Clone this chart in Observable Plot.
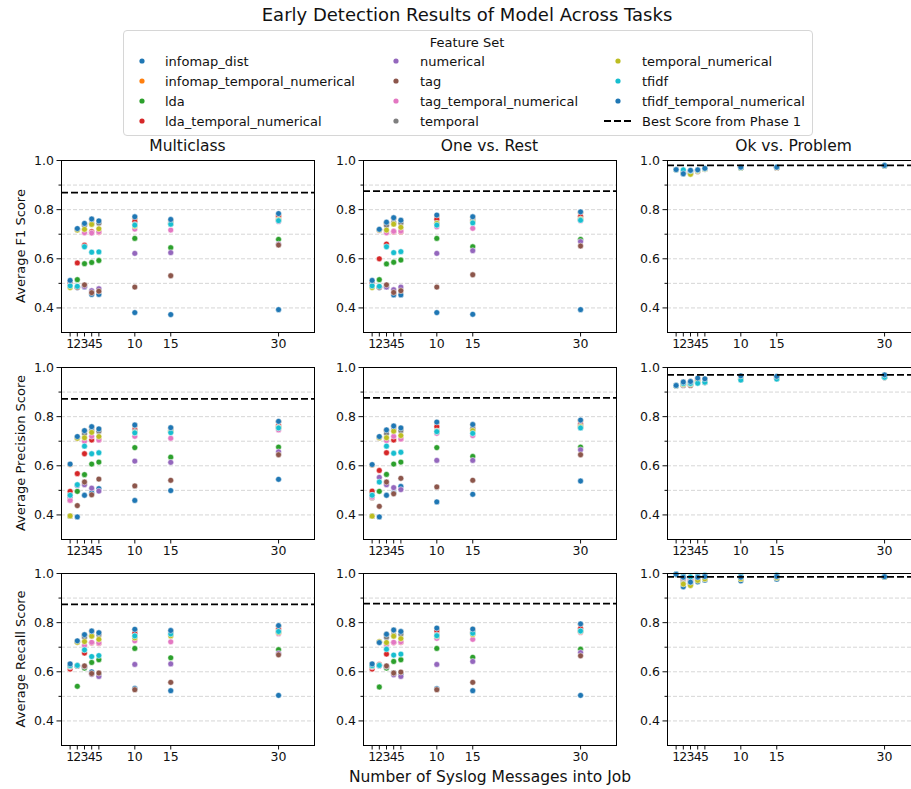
<!DOCTYPE html>
<html><head><meta charset="utf-8">
<script src="https://cdn.jsdelivr.net/npm/d3@7"></script>
<script src="https://cdn.jsdelivr.net/npm/@observablehq/plot@0.6"></script>
<style>
body{margin:0;background:#fff;}
#fig{position:relative;width:911px;height:789px;overflow:hidden;background:#fff;font-family:"DejaVu Sans",sans-serif;color:#111;}
.t{position:absolute;white-space:nowrap;transform:translate(-50%,-50%);line-height:1;}
.l{position:absolute;white-space:nowrap;transform:translate(0,-50%);line-height:1;font-size:13px;}
</style></head><body><div id="fig"></div><script>
const featureSets = ["infomap_dist","infomap_temporal_numerical","lda","lda_temporal_numerical","numerical","tag","tag_temporal_numerical","temporal","temporal_numerical","tfidf","tfidf_temporal_numerical"];
const colors = ["#1f77b4","#ff7f0e","#2ca02c","#d62728","#9467bd","#8c564b","#e377c2","#7f7f7f","#bcbd22","#17becf","#1f77b4"];
const xValues = [1,2,3,4,5,10,15,30];
const tasks = ["Multiclass","One vs. Rest","Ok vs. Problem"];
const metrics = ["Average F1 Score","Average Precision Score","Average Recall Score"];

// rows follow featureSets order, columns follow xValues
const f1Multiclass = [
 [0.505,0.483,0.485,0.455,0.455,0.381,0.373,0.393],
 [0.500,0.720,0.740,0.760,0.750,0.765,0.755,0.777],
 [0.500,0.515,0.580,0.585,0.593,0.683,0.645,0.679],
 [0.500,0.583,0.655,0.710,0.708,0.752,0.745,0.771],
 [0.490,0.484,0.487,0.470,0.478,0.622,0.625,0.660],
 [0.490,0.484,0.494,0.462,0.468,0.485,0.531,0.656],
 [0.490,0.718,0.706,0.705,0.710,0.721,0.717,0.752],
 [0.488,0.720,0.735,0.745,0.745,0.740,0.748,0.760],
 [0.483,0.717,0.720,0.740,0.722,0.733,0.742,0.758],
 [0.490,0.488,0.649,0.627,0.628,0.737,0.741,0.755],
 [0.512,0.723,0.744,0.762,0.754,0.771,0.760,0.784]];
const f1OneVsRest = [
 [0.505,0.483,0.485,0.453,0.453,0.381,0.374,0.393],
 [0.500,0.718,0.745,0.765,0.755,0.775,0.768,0.787],
 [0.500,0.515,0.579,0.586,0.595,0.683,0.649,0.679],
 [0.500,0.600,0.660,0.710,0.710,0.761,0.755,0.773],
 [0.490,0.484,0.485,0.474,0.485,0.622,0.633,0.670],
 [0.490,0.484,0.494,0.463,0.470,0.485,0.535,0.652],
 [0.490,0.715,0.706,0.712,0.713,0.730,0.724,0.755],
 [0.488,0.720,0.735,0.748,0.745,0.744,0.758,0.762],
 [0.483,0.717,0.717,0.741,0.728,0.744,0.750,0.760],
 [0.490,0.488,0.649,0.625,0.629,0.737,0.746,0.757],
 [0.512,0.720,0.749,0.767,0.757,0.778,0.771,0.791]];
const f1OkVsProblem = [
 [0.962,0.946,0.952,0.958,0.965,0.971,0.971,0.979],
 [0.963,0.955,0.957,0.962,0.967,0.972,0.972,0.980],
 [0.962,0.950,0.950,0.960,0.965,0.971,0.971,0.979],
 [0.963,0.955,0.956,0.961,0.966,0.972,0.972,0.980],
 [0.962,0.952,0.952,0.958,0.964,0.971,0.971,0.979],
 [0.962,0.952,0.953,0.955,0.964,0.971,0.971,0.979],
 [0.963,0.955,0.956,0.961,0.966,0.972,0.972,0.980],
 [0.962,0.950,0.948,0.958,0.965,0.971,0.972,0.979],
 [0.962,0.948,0.944,0.958,0.965,0.971,0.972,0.979],
 [0.963,0.962,0.958,0.962,0.967,0.972,0.973,0.980],
 [0.963,0.946,0.960,0.962,0.968,0.973,0.973,0.980]];
const precisionMulticlass = [
 [0.395,0.392,0.480,0.490,0.507,0.459,0.499,0.545],
 [0.605,0.717,0.742,0.757,0.748,0.764,0.753,0.779],
 [0.482,0.496,0.564,0.607,0.615,0.674,0.635,0.676],
 [0.496,0.568,0.649,0.705,0.706,0.747,0.740,0.764],
 [0.470,0.520,0.523,0.509,0.497,0.619,0.614,0.657],
 [0.460,0.438,0.534,0.482,0.546,0.518,0.541,0.645],
 [0.459,0.712,0.700,0.720,0.705,0.720,0.712,0.746],
 [0.396,0.715,0.730,0.745,0.740,0.740,0.745,0.757],
 [0.396,0.712,0.714,0.736,0.719,0.735,0.739,0.755],
 [0.480,0.523,0.680,0.649,0.653,0.734,0.735,0.754],
 [0.607,0.719,0.743,0.759,0.750,0.766,0.755,0.781]];
const precisionOneVsRest = [
 [0.395,0.392,0.480,0.490,0.516,0.453,0.484,0.538],
 [0.603,0.717,0.744,0.760,0.752,0.776,0.766,0.784],
 [0.490,0.496,0.565,0.607,0.615,0.674,0.638,0.676],
 [0.497,0.581,0.653,0.705,0.709,0.759,0.750,0.770],
 [0.480,0.553,0.523,0.511,0.503,0.622,0.622,0.665],
 [0.470,0.435,0.534,0.486,0.549,0.514,0.541,0.645],
 [0.473,0.714,0.703,0.720,0.709,0.732,0.723,0.755],
 [0.396,0.716,0.730,0.748,0.742,0.742,0.752,0.762],
 [0.395,0.714,0.714,0.741,0.723,0.740,0.743,0.758],
 [0.480,0.534,0.680,0.651,0.655,0.739,0.732,0.754],
 [0.605,0.719,0.746,0.762,0.754,0.778,0.768,0.786]];
const precisionOkVsProblem = [
 [0.926,0.930,0.930,0.945,0.945,0.955,0.957,0.962],
 [0.927,0.940,0.942,0.955,0.953,0.965,0.963,0.969],
 [0.926,0.932,0.934,0.945,0.945,0.955,0.957,0.962],
 [0.927,0.936,0.938,0.950,0.950,0.960,0.960,0.966],
 [0.926,0.930,0.930,0.942,0.942,0.952,0.955,0.960],
 [0.926,0.927,0.927,0.940,0.940,0.950,0.954,0.959],
 [0.927,0.935,0.937,0.948,0.948,0.958,0.958,0.965],
 [0.926,0.930,0.932,0.943,0.939,0.952,0.955,0.959],
 [0.926,0.932,0.933,0.945,0.945,0.955,0.957,0.962],
 [0.927,0.935,0.935,0.936,0.940,0.949,0.953,0.960],
 [0.927,0.941,0.943,0.957,0.954,0.966,0.964,0.970]];
const recallMulticlass = [
 [0.630,0.626,0.620,0.600,0.590,0.532,0.523,0.504],
 [0.630,0.724,0.750,0.764,0.757,0.770,0.766,0.785],
 [0.625,0.541,0.615,0.638,0.649,0.695,0.657,0.690],
 [0.611,0.625,0.676,0.718,0.716,0.757,0.750,0.774],
 [0.625,0.625,0.622,0.590,0.581,0.630,0.632,0.675],
 [0.625,0.625,0.624,0.593,0.595,0.527,0.557,0.669],
 [0.620,0.720,0.707,0.720,0.718,0.726,0.722,0.755],
 [0.625,0.722,0.740,0.748,0.750,0.745,0.760,0.762],
 [0.624,0.720,0.723,0.745,0.732,0.738,0.746,0.760],
 [0.625,0.626,0.689,0.662,0.666,0.746,0.754,0.764],
 [0.632,0.726,0.751,0.766,0.759,0.773,0.768,0.788]];
const recallOneVsRest = [
 [0.630,0.626,0.620,0.595,0.590,0.531,0.523,0.504],
 [0.630,0.723,0.752,0.768,0.762,0.776,0.772,0.792],
 [0.625,0.538,0.615,0.642,0.649,0.695,0.659,0.692],
 [0.611,0.630,0.672,0.719,0.720,0.766,0.760,0.777],
 [0.625,0.625,0.622,0.588,0.581,0.630,0.642,0.678],
 [0.625,0.628,0.624,0.595,0.599,0.527,0.557,0.665],
 [0.620,0.720,0.710,0.720,0.722,0.736,0.732,0.760],
 [0.625,0.722,0.740,0.750,0.752,0.750,0.762,0.765],
 [0.624,0.723,0.719,0.745,0.735,0.745,0.752,0.764],
 [0.625,0.626,0.692,0.668,0.672,0.747,0.757,0.766],
 [0.632,0.719,0.753,0.770,0.764,0.778,0.774,0.795]];
const recallOkVsProblem = [
 [0.997,0.946,0.959,0.966,0.973,0.970,0.977,0.985],
 [0.997,0.985,0.980,0.985,0.988,0.985,0.988,0.987],
 [0.997,0.969,0.975,0.980,0.985,0.985,0.988,0.986],
 [0.997,0.986,0.970,0.984,0.987,0.984,0.987,0.986],
 [0.997,0.975,0.975,0.978,0.982,0.980,0.985,0.986],
 [0.997,0.980,0.978,0.980,0.984,0.982,0.985,0.986],
 [0.997,0.985,0.978,0.984,0.987,0.984,0.987,0.987],
 [0.997,0.960,0.955,0.975,0.980,0.980,0.985,0.986],
 [0.997,0.957,0.951,0.972,0.978,0.978,0.983,0.985],
 [0.997,0.990,0.986,0.990,0.993,0.990,0.993,0.988],
 [0.997,0.985,0.965,0.985,0.988,0.985,0.988,0.987]];
const bestF1 = [0.869,0.875,0.980];
const bestPrecision = [0.872,0.876,0.970];
const bestRecall = [0.874,0.877,0.986];
const yMajorTicks = [0.4,0.6,0.8,1.0];
const yMinorTicks = [0.5,0.7,0.9];
const gridValues = [0.4,0.5,0.6,0.7,0.8,0.9];

const grid = [
  [f1Multiclass, f1OneVsRest, f1OkVsProblem],
  [precisionMulticlass, precisionOneVsRest, precisionOkVsProblem],
  [recallMulticlass, recallOneVsRest, recallOkVsProblem]];
const bests = [bestF1, bestPrecision, bestRecall];

const fig = document.getElementById("fig");
function addText(txt, x, y, size, cls="t", extra="") {
  const d = document.createElement("div");
  d.className = cls; d.textContent = txt;
  d.style.left = x + "px"; d.style.top = y + "px"; d.style.fontSize = size + "px";
  if (extra) d.style.cssText += extra;
  fig.appendChild(d); return d;
}

const colLeft = [61, 363, 667], rowTop = [160, 367, 573];
const PW = 253, PH = 172, ML = 45, MR = 10, MT = 8, MB = 26;

for (let r = 0; r < 3; r++) {
  for (let c = 0; c < 3; c++) {
    const vals = grid[r][c];
    const data = [];
    featureSets.forEach((s, i) => xValues.forEach((x, j) => data.push({set: s, x, y: vals[i][j]})));
    const svg = Plot.plot({
      width: ML + PW + MR, height: MT + PH + MB,
      marginLeft: ML, marginRight: MR, marginTop: MT, marginBottom: MB,
      style: {fontFamily: "DejaVu Sans, sans-serif", fontSize: "12.5px", color: "#111", background: "transparent", overflow: "visible"},
      x: {domain: [-0.2, 35]},
      y: {domain: [0.3, 1.0]},
      color: {domain: featureSets, range: colors},
      marks: [
        Plot.ruleY(gridValues, {stroke: "#cccccc", strokeWidth: 0.8, strokeDasharray: "4,2"}),
        Plot.axisX({ticks: xValues, tickSize: 4.5, tickPadding: 2, label: null, fontSize: 12.5}),
        Plot.axisY({ticks: yMajorTicks, tickSize: 4.5, tickPadding: 3, tickFormat: ".1f", label: null, fontSize: 12.5}),
        Plot.axisY({ticks: yMinorTicks, tickSize: 2.5, tickFormat: () => "", label: null}),
        Plot.dot(data, {x: "x", y: "y", fill: (d, i) => colors[featureSets.indexOf(d.set)], r: 2.9, stroke: "white", strokeWidth: 0.5}),
        Plot.ruleY([bests[r][c]], {stroke: "black", strokeWidth: 1.8, strokeDasharray: "7,3"}),
        Plot.frame({stroke: "#000", strokeWidth: 1})
      ]
    });
    svg.style.position = "absolute";
    svg.style.left = (colLeft[c] - ML) + "px";
    svg.style.top = (rowTop[r] - MT) + "px";
    fig.appendChild(svg);
  }
}

// titles and labels
addText("Early Detection Results of Model Across Tasks", 467, 15, 18);
tasks.forEach((t, c) => addText(t, colLeft[c] + PW / 2, 147, 15.5));
metrics.forEach((m, r) => addText(m, 20, rowTop[r] + PH / 2, 13, "t", "transform:translate(-50%,-50%) rotate(-90deg);"));
addText("Number of Syslog Messages into Job", 490, 778, 15.5);

// legend
const box = document.createElement("div");
box.style.cssText = "position:absolute;left:123px;top:30px;width:688px;height:104px;border:1px solid #d6d6d6;border-radius:4px;background:rgba(255,255,255,0.8);";
fig.appendChild(box);
addText("Feature Set", 467, 42, 13);
const legendCols = [[142, 165], [396, 420], [618, 642]];
const legendRows = [61, 81, 101, 121];
const legendItems = featureSets.map((s, i) => ({label: s, color: colors[i]})).concat([{label: "Best Score from Phase 1", line: true}]);
legendItems.forEach((it, k) => {
  const col = Math.floor(k / 4), row = k % 4;
  const [mx, tx] = legendCols[col];
  const y = legendRows[row];
  const s = document.createElementNS("http://www.w3.org/2000/svg", "svg");
  s.setAttribute("width", 30); s.setAttribute("height", 10);
  s.style.cssText = `position:absolute;left:${mx - 15}px;top:${y - 5}px;`;
  if (it.line) {
    s.innerHTML = `<line x1="1" x2="28" y1="5" y2="5" stroke="black" stroke-width="1.8" stroke-dasharray="7,3"/>`;
  } else {
    s.innerHTML = `<circle cx="15" cy="5" r="2.6" fill="${it.color}"/>`;
  }
  fig.appendChild(s);
  addText(it.label, tx, y, 13, "l");
});
</script></body></html>
